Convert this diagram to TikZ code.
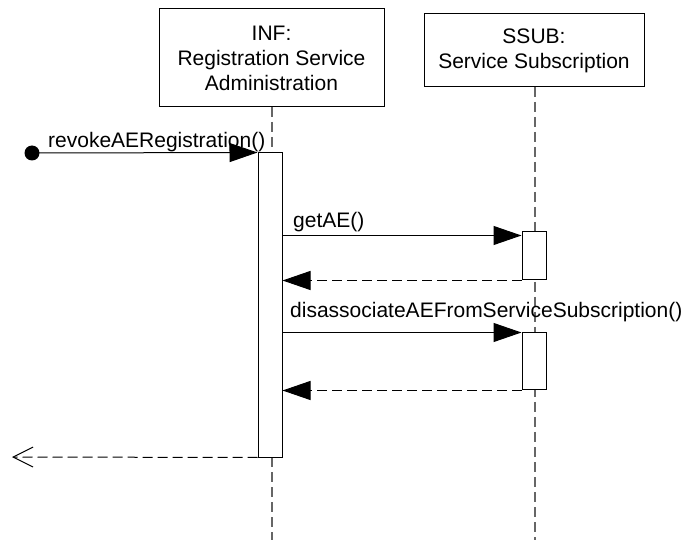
\documentclass[tikz,border=0pt]{standalone}
\usepackage{fontspec}
\setmainfont{Liberation Sans}
\usetikzlibrary{arrows.meta}
\begin{document}
\begin{tikzpicture}[x=1pt,y=-1pt,
  txt/.style={font=\fontsize{21}{25}\selectfont},
  obj/.style={draw, line width=1pt, fill=white, align=center, txt, inner sep=0pt},
  actbox/.style={draw, line width=1pt, fill=white, inner sep=0pt, minimum width=24pt},
  lifeline/.style={draw=black!60, line width=1.2pt, dash pattern=on 10pt off 5pt},
  msg/.style={line width=1pt, -{Triangle[length=28pt,width=19pt]}},
  ret/.style={draw=black, line width=1pt, dash pattern=on 10pt off 5pt, -{Triangle[length=28pt,width=19pt]}},
  openret/.style={draw=black, line width=1pt, dash pattern=on 10pt off 5pt, -{Straight Barb[length=20pt,width=20pt,line width=1pt]}},
  lbl/.style={txt, anchor=base west, inner sep=0pt},
]
\useasboundingbox[fill=white] (0,0) rectangle (689,540);

% objects
\node[obj, minimum width=225pt, minimum height=98pt] (inf) at (271.5,58) {INF:\\Registration Service\\Administration};
\node[obj, minimum width=220pt, minimum height=73pt] (ssub) at (534,50.5) {SSUB:\\Service Subscription};

% lifeline ends
\coordinate (l1bot) at (272,540);
\coordinate (l2bot) at (535,540);

% lifelines
\draw[lifeline] (272,107) -- (272,153);
\draw[lifeline] (272,457) -- (l1bot);
\draw[lifeline] (535,87) -- (l2bot);

% activations
\node[actbox, minimum height=304pt] (act1) at (270,305) {};
\node[actbox, minimum height=48pt] (act2a) at (534,256) {};
\node[actbox, minimum height=57pt] (act2b) at (534,361.5) {};

% start
\node[circle, fill=black, inner sep=0pt, minimum size=15pt] (start) at (32,153) {};
\draw[msg] (start.center) -- (act1.north west);
\node[lbl] (lrevoke) at (48,148) {revokeAERegistration()};

% getAE
\draw[msg] ([yshift=-4pt]act2a.north west -| act1.east) -- ([yshift=-4pt]act2a.north west);
\node[lbl] (lget) at (293,228) {getAE()};
\draw[ret] (act2a.south west) -- (act2a.south west -| act1.east);

% disassociate
\draw[msg] (act2b.north west -| act1.east) -- (act2b.north west);
\node[lbl] (ldis) at (290,318) {disassociateAEFromServiceSubscription()};
\draw[ret] (act2b.south west) -- (act2b.south west -| act1.east);

% final return
\coordinate (endpt) at (12,457);
\draw[openret] (act1.south west) -- (endpt);
\end{tikzpicture}
\end{document}
